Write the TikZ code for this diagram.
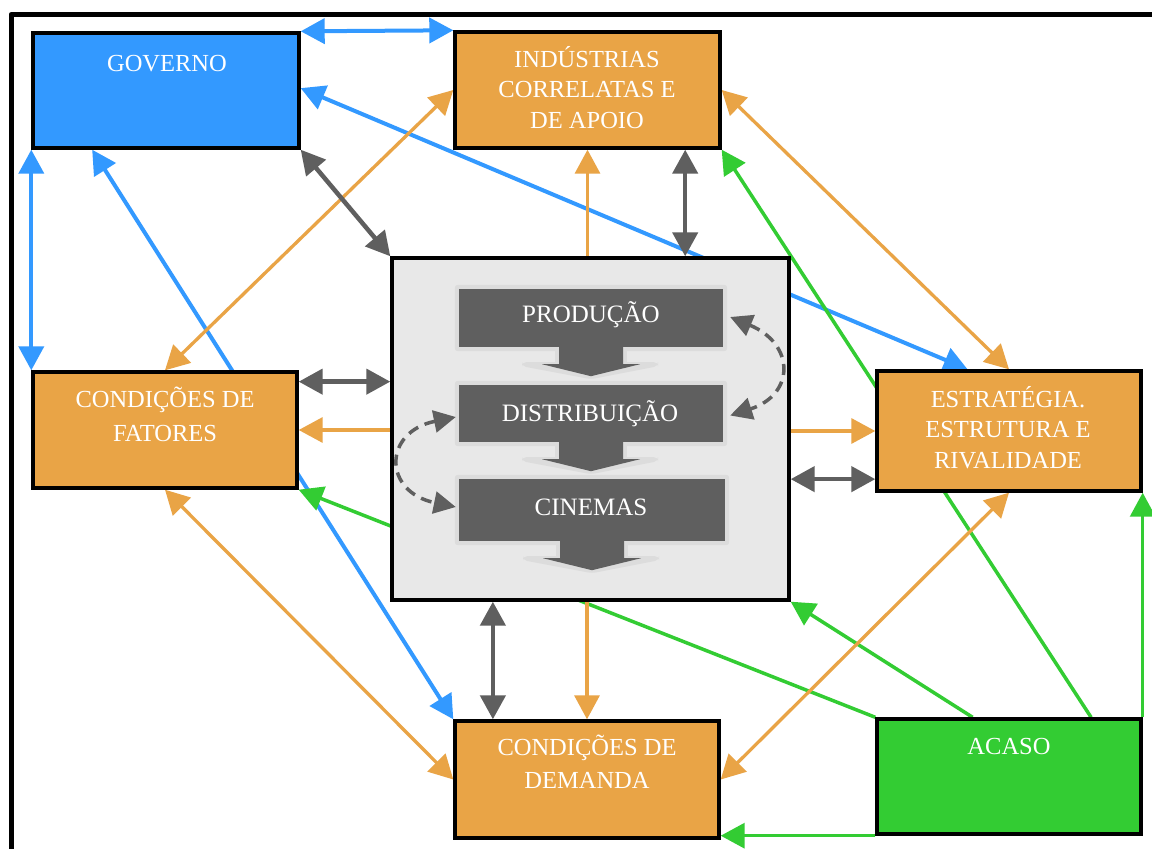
\documentclass[tikz,border=0pt]{standalone}
\usepackage{fontspec}
\setmainfont{Liberation Serif}
\usetikzlibrary{arrows.meta,calc,backgrounds}

\definecolor{govblue}{HTML}{3399FF}
\definecolor{orng}{HTML}{E9A446}
\definecolor{grn}{HTML}{33CC33}
\definecolor{dgray}{HTML}{5F5F5F}
\definecolor{lgray}{HTML}{E8E8E8}
\definecolor{halo}{HTML}{DCDCDC}

\newcommand\boxfont{\fontsize{24.5}{30}\selectfont}
\newcommand\stepfont{\fontsize{25}{30}\selectfont}

% one stage of the chain: dark bar with a downward chevron and a soft rim
\newcommand\procstep[1]{%
  \fill[halo, rounded corners=3pt] ($(#1.north west)+(-4,-4)$) rectangle ($(#1.south east)+(4,4)$);
  \fill[halo] ($(#1.south)+(-36,0)$) rectangle ($(#1.south)+(36,18)$);
  \fill[halo, rounded corners=4pt] ($(#1.south)+(-69,15)$) -- ($(#1.south)+(67,15)$)
      -- ($(#1.south)+(67,19)$) -- ($(#1.south)+(0,32)$) -- ($(#1.south)+(-69,19)$) -- cycle;
  \fill[dgray] (#1.north west) rectangle (#1.south east);
  \fill[dgray] ($(#1.south)+(-32,-1)$) -- ($(#1.south)+(-32,17)$) -- ($(#1.south)+(-49,17)$)
      -- ($(#1.south)+(0,29)$) -- ($(#1.south)+(49,17)$) -- ($(#1.south)+(32,17)$)
      -- ($(#1.south)+(32,-1)$) -- cycle;
}

\tikzset{
  boxst/.style={draw=black, line width=3.4pt, inner sep=0pt},
  txt/.style={anchor=base, text=white, font=\boxfont, inner sep=0pt},
  stxt/.style={anchor=base, text=white, font=\stepfont, inner sep=0pt},
  blueln/.style={draw=govblue, line width=4pt},
  grayln/.style={draw=dgray, line width=4.5pt},
  orgln/.style={draw=orng, line width=3.3pt},
  grnln/.style={draw=grn, line width=3.5pt},
  dashln/.style={draw=dgray, line width=3.5pt, dash pattern=on 11pt off 7pt,
                 {Triangle[length=22pt,width=22pt]}-{Triangle[length=22pt,width=22pt]}},
}

\begin{document}
\begin{tikzpicture}[x=1pt, y=-1pt, >={Triangle[length=24pt,width=25pt]}]
\useasboundingbox (0,0) rectangle (1152,849);

% outer frame
\draw[line width=5pt, line join=round] (11,849) -- (11,14.5) -- (1152,14.5);

% determinants
\node[boxst, fill=govblue, minimum width=266pt, minimum height=115pt] (gov) at (166,90.5) {};
\node[boxst, fill=orng, minimum width=265pt, minimum height=116pt] (ind) at (587.5,90) {};
\node[boxst, fill=orng, minimum width=264pt, minimum height=116pt] (fat) at (165,430) {};
\node[boxst, fill=orng, minimum width=264pt, minimum height=120pt] (est) at (1009,431) {};
\node[boxst, fill=orng, minimum width=264pt, minimum height=117pt] (dem) at (587,779.5) {};
\node[boxst, fill=grn, minimum width=264pt, minimum height=115pt] (aca) at (1009,776.5) {};
\node[boxst, fill=lgray, minimum width=397pt, minimum height=342pt] (ctr) at (590.5,429) {};

\node[txt] (gov-l1) at (167,71) {GOVERNO};
\node[txt] (ind-l1) at (587,67) {INDÚSTRIAS};
\node[txt] (ind-l2) at (587,97) {CORRELATAS E};
\node[txt] (ind-l3) at (587,128) {DE APOIO};
\node[txt] (fat-l1) at (165,407) {CONDIÇÕES DE};
\node[txt] (fat-l2) at (165,441) {FATORES};
\node[txt] (est-l1) at (1008,407) {ESTRATÉGIA.};
\node[txt] (est-l2) at (1008,437) {ESTRUTURA E};
\node[txt] (est-l3) at (1008,468) {RIVALIDADE};
\node[txt] (dem-l1) at (587,755) {CONDIÇÕES DE};
\node[txt] (dem-l2) at (587,788) {DEMANDA};
\node[txt] (aca-l1) at (1009,754) {ACASO};

% the film chain inside the cluster
\node[inner sep=0pt, minimum width=264pt, minimum height=58pt] (prod) at (591,318) {};
\node[inner sep=0pt, minimum width=264pt, minimum height=57pt] (dist) at (591,413.5) {};
\node[inner sep=0pt, minimum width=266pt, minimum height=62pt] (cine) at (592,510) {};
\procstep{prod}
\procstep{dist}
\procstep{cine}
\node[stxt] (prod-l) at (591,322) {PRODUÇÃO};
\node[stxt] (dist-l) at (590,421) {DISTRIBUIÇÃO};
\node[stxt] (cine-l) at (591,515) {CINEMAS};

\draw[dashln] ([shift={(7,-1)}]prod.east) .. controls +(65,27) and +(65,-21) .. ([shift={(7,2)}]dist.east);
\draw[dashln] ([shift={(-3,3.5)}]dist.west) .. controls +(-73,15) and +(-73,-15) .. ([shift={(-3,-3)}]cine.west);

\begin{scope}[on background layer]
  \fill[white] (0,0) rectangle (1152,849);
  % government
  \draw[blueln,<->] (gov.north east) -- (ind.north west);
  \draw[blueln,<->] (gov.south west) -- (fat.north west);
  \draw[blueln,<->] ($(gov.north east)!0.48!(gov.south east)$) -- ($(est.north west)!0.345!(est.north east)$);
  \draw[blueln,<->] ($(gov.south west)!0.226!(gov.south east)$) -- (dem.north west);
  % chance
  \draw[grnln,->] ($(aca.north west)!0.807!(aca.north east)$) -- (ind.south east);
  \draw[grnln,->] (aca.north west) -- (fat.south east);
  \draw[grnln,->] ($(aca.north west)!0.364!(aca.north east)$) -- (ctr.south east);
  \draw[grnln,->] (aca.north east) -- (est.south east);
  \draw[grnln,->] (aca.south west) -- (aca.south west -| dem.east);
  % diamond
  \draw[orgln,->] (ind.south |- ctr.north) -- (ind.south);
  \draw[orgln,->] (fat.east -| ctr.west) -- (fat.east);
  \draw[orgln,->] (est.west -| ctr.east) -- (est.west);
  \draw[orgln,->] (dem.north |- ctr.south) -- (dem.north);
  \draw[orgln,<->] (fat.north) -- (ind.west);
  \draw[orgln,<->] (ind.east) -- (est.north);
  \draw[orgln,<->] (fat.south) -- (dem.west);
  \draw[orgln,<->] (est.south) -- (dem.east);
  % cluster
  \coordinate (g1) at ($(ind.south west)!0.864!(ind.south east)$);
  \coordinate (g2) at ($(fat.north east)!0.095!(fat.south east)$);
  \coordinate (g3) at ($(est.north west)!0.89!(est.south west)$);
  \coordinate (g4) at ($(dem.north west)!0.148!(dem.north east)$);
  \draw[grayln,<->] (gov.south east) -- (ctr.north west);
  \draw[grayln,<->] (g1) -- (g1 |- ctr.north);
  \draw[grayln,<->] (g2) -- (g2 -| ctr.west);
  \draw[grayln,<->] (g3 -| ctr.east) -- (g3);
  \draw[grayln,<->] (g4 |- ctr.south) -- (g4);
\end{scope}
\end{tikzpicture}
\end{document}
